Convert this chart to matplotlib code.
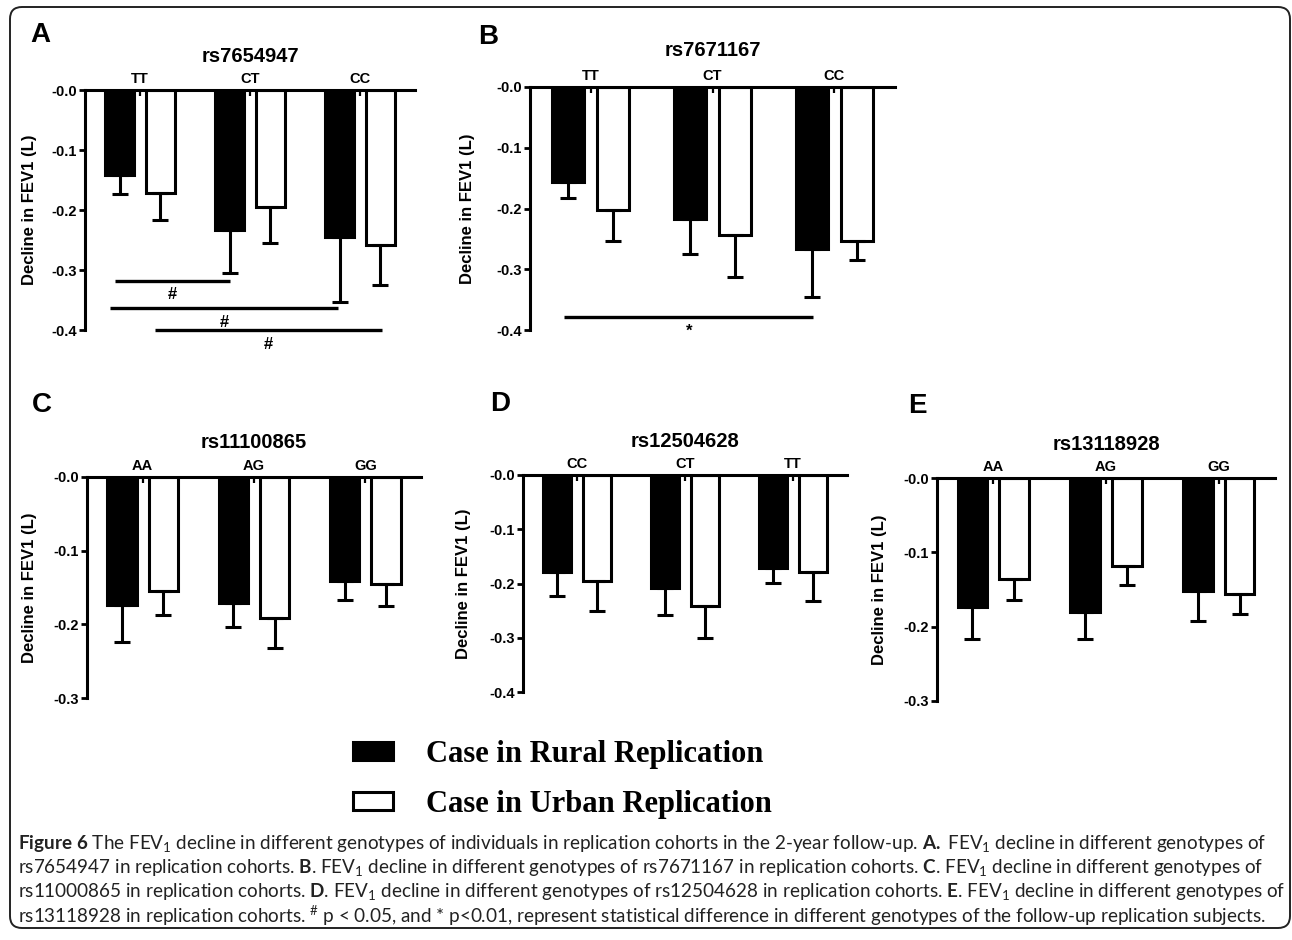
import numpy as np
import matplotlib
matplotlib.use("Agg")
import matplotlib.pyplot as plt
from matplotlib.patches import FancyBboxPatch

W, H = 1292, 940

plt.rcParams["font.family"] = ["Liberation Sans", "DejaVu Sans"]
plt.rcParams["mathtext.fontset"] = "custom"
plt.rcParams["mathtext.rm"] = "Lato"
plt.rcParams["mathtext.bf"] = "Lato:bold"
plt.rcParams["mathtext.it"] = "Lato:italic"

# ---- data ----
series_names = ["Case in Rural Replication", "Case in Urban Replication"]
ylabel_txt = "Decline in FEV1 (L)"

snp_A = "rs7654947"
geno_A = ["TT", "CT", "CC"]
rural_A = [-0.142, -0.233, -0.245]
rural_A_sem = [0.032, 0.072, 0.108]
urban_A = [-0.171, -0.195, -0.258]
urban_A_sem = [0.046, 0.060, 0.067]
# significance bars: (x start, x end, y, mark)
sig_A = [(-0.23, 0.82, -0.318, "#"),
         (-0.27, 1.80, -0.364, "#"),
         (0.14, 2.20, -0.400, "#")]

snp_B = "rs7671167"
geno_B = ["TT", "CT", "CC"]
rural_B = [-0.156, -0.217, -0.266]
rural_B_sem = [0.027, 0.058, 0.080]
urban_B = [-0.203, -0.243, -0.254]
urban_B_sem = [0.050, 0.070, 0.030]
sig_B = [(-0.22, 1.83, -0.379, "*")]

snp_C = "rs11100865"
geno_C = ["AA", "AG", "GG"]
rural_C = [-0.174, -0.171, -0.141]
rural_C_sem = [0.050, 0.032, 0.026]
urban_C = [-0.155, -0.191, -0.145]
urban_C_sem = [0.032, 0.041, 0.030]

snp_D = "rs12504628"
geno_D = ["CC", "CT", "TT"]
rural_D = [-0.179, -0.208, -0.172]
rural_D_sem = [0.044, 0.050, 0.028]
urban_D = [-0.196, -0.242, -0.179]
urban_D_sem = [0.055, 0.059, 0.053]

snp_E = "rs13118928"
geno_E = ["AA", "AG", "GG"]
rural_E = [-0.173, -0.180, -0.152]
rural_E_sem = [0.043, 0.036, 0.041]
urban_E = [-0.136, -0.118, -0.156]
urban_E_sem = [0.028, 0.026, 0.027]

yticks_04 = [0.0, -0.1, -0.2, -0.3, -0.4]
ylabels_04 = ["-0.0", "-0.1", "-0.2", "-0.3", "-0.4"]
yticks_03 = [0.0, -0.1, -0.2, -0.3]
ylabels_03 = ["-0.0", "-0.1", "-0.2", "-0.3"]

caption_lines = [
    r"$\mathbf{Figure\ 6}$ The FEV$_1$ decline in different genotypes of individuals in replication cohorts in the 2-year follow-up. $\mathbf{A.}$ FEV$_1$ decline in different genotypes of",
    r"rs7654947 in replication cohorts. $\mathbf{B}$. FEV$_1$ decline in different genotypes of rs7671167 in replication cohorts. $\mathbf{C}$. FEV$_1$ decline in different genotypes of",
    r"rs11000865 in replication cohorts. $\mathbf{D}$. FEV$_1$ decline in different genotypes of rs12504628 in replication cohorts. $\mathbf{E}$. FEV$_1$ decline in different genotypes of",
    r"rs13118928 in replication cohorts. ${}^{\#}$ p < 0.05, and * p<0.01, represent statistical difference in different genotypes of the follow-up replication subjects.",
]

fig = plt.figure(figsize=(W / 100, H / 100), dpi=100)

# background axes in pixel coords for frame, letters, caption
bg = fig.add_axes([0, 0, 1, 1], zorder=-1)
bg.set_xlim(0, W)
bg.set_ylim(H, 0)
bg.axis("off")
bg.add_patch(FancyBboxPatch((10, 7), 1280, 921, boxstyle="round,pad=0,rounding_size=12",
                            fill=False, ec="#222222", lw=1.4))


def panel(x0, x1, ytop, ybot, snp, genos, rural, rural_sem, urban, urban_sem,
          yt, yl, title_y, ylabel_x, sig=None):
    ax = fig.add_axes([x0 / W, 1 - ybot / H, (x1 - x0) / W, (ybot - ytop) / H])
    x = np.arange(len(genos))
    off, w = 0.185, 0.265
    b1 = ax.bar(x - off, rural, w, color="black", edgecolor="black", lw=2.2, label=series_names[0])
    b2 = ax.bar(x + off, urban, w, color="white", edgecolor="black", lw=2.2, label=series_names[1])
    z = np.zeros(len(genos))
    ax.errorbar(x - off, rural, yerr=[rural_sem, z], fmt="none", ecolor="black",
                elinewidth=2.2, capsize=5.8, capthick=2.2, clip_on=False)
    ax.errorbar(x + off, urban, yerr=[urban_sem, z], fmt="none", ecolor="black",
                elinewidth=2.2, capsize=5.8, capthick=2.2, clip_on=False)
    ax.set_xlim(-0.5, 2.5)
    ax.set_ylim(yt[-1], 0)
    for s in ["right", "bottom"]:
        ax.spines[s].set_visible(False)
    for s in ["top", "left"]:
        ax.spines[s].set_linewidth(2.2)
    ax.xaxis.tick_top()
    ax.set_xticks(x)
    ax.set_xticklabels(genos, fontsize=10.5, fontweight="bold")
    ax.tick_params(axis="x", direction="in", length=4, width=1.6, pad=3)
    ax.set_yticks(yt)
    ax.set_yticklabels(yl, fontsize=10.5, fontweight="bold")
    ax.tick_params(axis="y", direction="out", length=4, width=2, pad=2)
    ax.set_ylabel(ylabel_txt, fontsize=12, fontweight="bold")
    ax.yaxis.set_label_coords(-(x0 - ylabel_x) / (x1 - x0), 0.5)
    ax.text(0.5, 1 + (ytop - title_y) / (ybot - ytop), snp, transform=ax.transAxes,
            ha="center", va="center", fontsize=14.5, fontweight="bold")
    if sig:
        for xa, xb, yv, mark in sig:
            ax.plot([xa, xb], [yv, yv], color="black", lw=2.4, clip_on=False,
                    solid_capstyle="butt")
            ax.text((xa + xb) / 2, yv - 0.011, mark, ha="center", va="top",
                    fontsize=12, fontweight="bold", clip_on=False)
    return ax, b1, b2


axA, hr, hu = panel(85, 415, 90, 330, snp_A, geno_A, rural_A, rural_A_sem, urban_A, urban_A_sem,
                    yticks_04, ylabels_04, 57, 37, sig_A)
panel(530, 895, 87, 330, snp_B, geno_B, rural_B, rural_B_sem, urban_B, urban_B_sem,
      yticks_04, ylabels_04, 50, 475, sig_B)
panel(87, 421, 477, 698, snp_C, geno_C, rural_C, rural_C_sem, urban_C, urban_C_sem,
      yticks_03, ylabels_03, 443, 37)
panel(523, 847, 475, 692, snp_D, geno_D, rural_D, rural_D_sem, urban_D, urban_D_sem,
      yticks_04, ylabels_04, 442, 471)
panel(937, 1275, 478, 701, snp_E, geno_E, rural_E, rural_E_sem, urban_E, urban_E_sem,
      yticks_03, ylabels_03, 444, 887)

# panel letters
for letter, lx, ly in [("A", 30, 35), ("B", 478, 37), ("C", 32, 405), ("D", 490, 404), ("E", 908, 406)]:
    bg.text(lx, ly, letter, fontsize=20, fontweight="bold", ha="left", va="center")

fig.legend(handles=[hr, hu], labels=series_names, loc="upper left",
           bbox_to_anchor=(353 / W, 1 - 740 / H), frameon=False,
           prop={"family": "Liberation Serif", "size": 22, "weight": "bold"},
           handlelength=1.3, handleheight=0.5, handletextpad=1.1,
           labelspacing=0.68, borderpad=0, borderaxespad=0)

for i, line in enumerate(caption_lines):
    bg.text(18, 844 + i * 24, line, fontsize=13.6, family=["Lato", "DejaVu Sans"],
            ha="left", va="center", color="#222222")

fig.savefig("out.png", dpi=100)
